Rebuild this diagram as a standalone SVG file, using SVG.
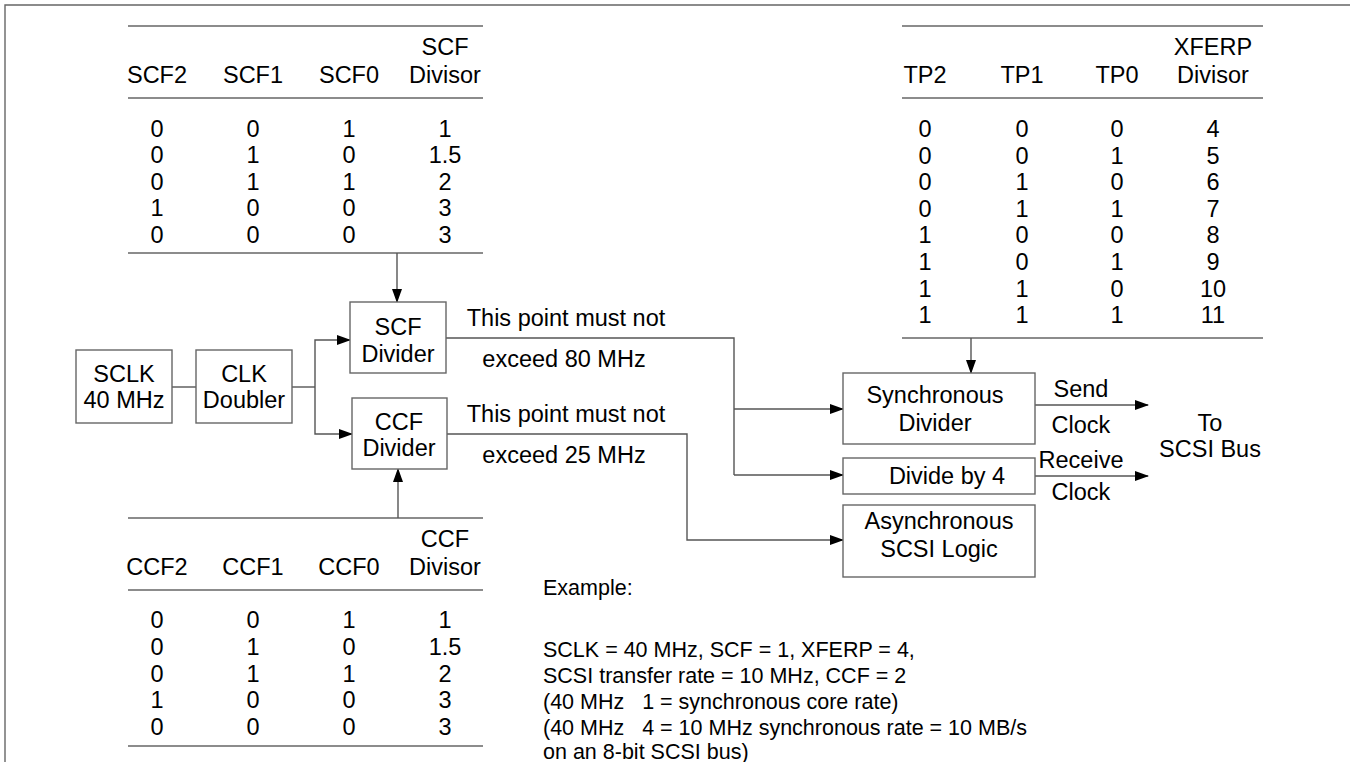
<svg xmlns="http://www.w3.org/2000/svg" width="1350" height="762" viewBox="0 0 1350 762">
<defs>
<marker id="arr" markerWidth="14" markerHeight="10" refX="13" refY="5" orient="auto" markerUnits="userSpaceOnUse">
<path d="M0,0 L14,5 L0,10 Z" fill="#000"/>
</marker>
<style>
text{font-family:"Liberation Sans",Arial,sans-serif;font-size:23.5px;fill:#000;text-anchor:middle}
.l{text-anchor:start;white-space:pre;font-size:21.5px}
.box{fill:#fff;stroke:#666;stroke-width:1.4}
.rule{stroke:#666;stroke-width:1.4;fill:none}
.wire{stroke:#555;stroke-width:1.4;fill:none}
.wa{stroke:#555;stroke-width:1.4;fill:none;marker-end:url(#arr)}
</style>
</defs>
<rect width="1350" height="762" fill="#fff"/>
<path class="rule" d="M5,762 V5 H1350"/>

<g id="scf-table">
<line class="rule" x1="128" y1="26" x2="483" y2="26"/>
<line class="rule" x1="128" y1="98" x2="483" y2="98"/>
<line class="rule" x1="128" y1="253" x2="483" y2="253"/>
<text x="157" y="83">SCF2</text><text x="253" y="83">SCF1</text><text x="349" y="83">SCF0</text>
<text x="445" y="55">SCF</text><text x="445" y="83">Divisor</text>
<text x="157" y="137">0</text><text x="253" y="137">0</text><text x="349" y="137">1</text><text x="445" y="137">1</text>
<text x="157" y="163">0</text><text x="253" y="163">1</text><text x="349" y="163">0</text><text x="445" y="163">1.5</text>
<text x="157" y="190">0</text><text x="253" y="190">1</text><text x="349" y="190">1</text><text x="445" y="190">2</text>
<text x="157" y="216">1</text><text x="253" y="216">0</text><text x="349" y="216">0</text><text x="445" y="216">3</text>
<text x="157" y="243">0</text><text x="253" y="243">0</text><text x="349" y="243">0</text><text x="445" y="243">3</text>
</g>

<g id="tp-table">
<line class="rule" x1="902" y1="26" x2="1263" y2="26"/>
<line class="rule" x1="902" y1="98" x2="1263" y2="98"/>
<line class="rule" x1="902" y1="338" x2="1263" y2="338"/>
<text x="925" y="83">TP2</text><text x="1022" y="83">TP1</text><text x="1117" y="83">TP0</text>
<text x="1213" y="55">XFERP</text><text x="1213" y="83">Divisor</text>
<text x="925" y="137">0</text><text x="1022" y="137">0</text><text x="1117" y="137">0</text><text x="1213" y="137">4</text>
<text x="925" y="164">0</text><text x="1022" y="164">0</text><text x="1117" y="164">1</text><text x="1213" y="164">5</text>
<text x="925" y="190">0</text><text x="1022" y="190">1</text><text x="1117" y="190">0</text><text x="1213" y="190">6</text>
<text x="925" y="217">0</text><text x="1022" y="217">1</text><text x="1117" y="217">1</text><text x="1213" y="217">7</text>
<text x="925" y="243">1</text><text x="1022" y="243">0</text><text x="1117" y="243">0</text><text x="1213" y="243">8</text>
<text x="925" y="270">1</text><text x="1022" y="270">0</text><text x="1117" y="270">1</text><text x="1213" y="270">9</text>
<text x="925" y="297">1</text><text x="1022" y="297">1</text><text x="1117" y="297">0</text><text x="1213" y="297">10</text>
<text x="925" y="323">1</text><text x="1022" y="323">1</text><text x="1117" y="323">1</text><text x="1213" y="323">11</text>
</g>

<g id="ccf-table">
<line class="rule" x1="128" y1="518" x2="483" y2="518"/>
<line class="rule" x1="128" y1="590" x2="483" y2="590"/>
<line class="rule" x1="128" y1="746" x2="483" y2="746"/>
<text x="157" y="575">CCF2</text><text x="253" y="575">CCF1</text><text x="349" y="575">CCF0</text>
<text x="445" y="547">CCF</text><text x="445" y="575">Divisor</text>
<text x="157" y="628">0</text><text x="253" y="628">0</text><text x="349" y="628">1</text><text x="445" y="628">1</text>
<text x="157" y="655">0</text><text x="253" y="655">1</text><text x="349" y="655">0</text><text x="445" y="655">1.5</text>
<text x="157" y="682">0</text><text x="253" y="682">1</text><text x="349" y="682">1</text><text x="445" y="682">2</text>
<text x="157" y="708">1</text><text x="253" y="708">0</text><text x="349" y="708">0</text><text x="445" y="708">3</text>
<text x="157" y="735">0</text><text x="253" y="735">0</text><text x="349" y="735">0</text><text x="445" y="735">3</text>
</g>

<g id="connectors">
<line class="wa" x1="397" y1="253" x2="397" y2="302"/>
<line class="wa" x1="398" y1="518" x2="398" y2="469"/>
<line class="wa" x1="971" y1="338" x2="971" y2="373"/>
<line class="wire" x1="172" y1="387" x2="196" y2="387"/>
<line class="wire" x1="292" y1="387" x2="315" y2="387"/>
<path class="wa" d="M315,387 V340 H350"/>
<path class="wa" d="M315,387 V434 H352"/>
<path class="wire" d="M446,338 H734 V475"/>
<line class="wa" x1="734" y1="409" x2="843" y2="409"/>
<line class="wa" x1="734" y1="475" x2="843" y2="475"/>
<path class="wa" d="M447,434 H687 V540 H843"/>
<line class="wa" x1="1035" y1="405" x2="1148" y2="405"/>
<line class="wa" x1="1035" y1="476" x2="1148" y2="476"/>
</g>

<g id="sclk">
<rect class="box" x="76" y="350" width="96" height="73"/>
<text x="124" y="382">SCLK</text><text x="124" y="408">40 MHz</text>
</g>
<g id="clk-doubler">
<rect class="box" x="196" y="350" width="96" height="73"/>
<text x="244" y="382">CLK</text><text x="244" y="408">Doubler</text>
</g>
<g id="scf-divider">
<rect class="box" x="350" y="302" width="96" height="71"/>
<text x="398" y="335">SCF</text><text x="398" y="362">Divider</text>
</g>
<g id="ccf-divider">
<rect class="box" x="352" y="398" width="95" height="71"/>
<text x="399" y="430">CCF</text><text x="399" y="456">Divider</text>
</g>
<g id="sync-divider">
<rect class="box" x="843" y="373" width="192" height="71"/>
<text x="935" y="403">Synchronous</text><text x="935" y="431">Divider</text>
</g>
<g id="divide-by-4">
<rect class="box" x="843" y="458" width="192" height="36"/>
<text x="947" y="484">Divide by 4</text>
</g>
<g id="async-logic">
<rect class="box" x="843" y="505" width="192" height="72"/>
<text x="939" y="529">Asynchronous</text><text x="939" y="557">SCSI Logic</text>
</g>

<g id="labels">
<text x="566" y="326">This point must not</text>
<text x="564" y="367">exceed 80 MHz</text>
<text x="566" y="422">This point must not</text>
<text x="564" y="463">exceed 25 MHz</text>
<text x="1081" y="397">Send</text><text x="1081" y="433">Clock</text>
<text x="1081" y="468">Receive</text><text x="1081" y="500">Clock</text>
<text x="1210" y="431">To</text><text x="1210" y="457">SCSI Bus</text>
</g>

<g id="example">
<text class="l" x="543" y="595">Example:</text>
<text class="l" x="543" y="657">SCLK = 40 MHz, SCF = 1, XFERP = 4,</text>
<text class="l" x="543" y="683">SCSI transfer rate = 10 MHz, CCF = 2</text>
<text class="l" x="543" y="709">(40 MHz   1 = synchronous core rate)</text>
<text class="l" x="543" y="735">(40 MHz   4 = 10 MHz synchronous rate = 10 MB/s</text>
<text class="l" x="543" y="759">on an 8-bit SCSI bus)</text>
</g>
</svg>
